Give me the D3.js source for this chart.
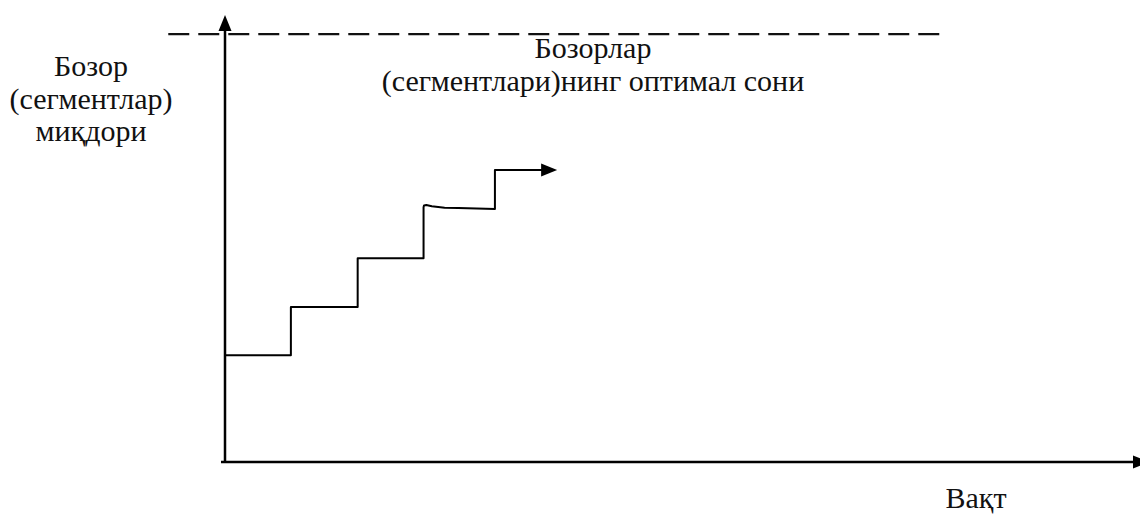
<!DOCTYPE html>
<meta charset="utf-8">
<script src="https://cdn.jsdelivr.net/npm/d3@7"></script>
<style>
    body { margin: 0; background: #fff; }
</style>
<body>
<div id="chart"></div>
<script>

    // step values (time units, level units 0..100)
    var stepTimes = [0, 7.2, 14.5, 21.7, 29.5, 36.3]
    var stepLevels = [23.9, 34.7, 45.6, 56.6, 65.3]
    // hand-drawn wobble at the top of the 4th riser
    var curlTimes = [21.7, 21.75, 22.0, 22.6, 24.0, 25.5]
    var curlLevels = [57.0, 57.4, 57.5, 57.2, 56.9, 56.8]
    var optimalLevel = 95.7
    var optimalRange = [-6.2, 78.7]
    var yLabel = ["Бозор", "(сегментлар)", "миқдори"]
    var optimalLabel = ["Бозорлар", "(сегментлари)нинг оптимал сони"]
    var xLabel = "Вақт"

    var W = 1140, H = 514
    var serif = "'Liberation Serif'"

    var x_scale = d3.scaleLinear().domain([0, 100]).range([225, 1140])
    var y_scale = d3.scaleLinear().domain([0, 100]).range([462, 15])

    var svg = d3.select("#chart").append("svg").attr("width", W).attr("height", H)

    // axes
    svg.append("line").attr("x1", x_scale(0)).attr("x2", x_scale(0))
        .attr("y1", y_scale(0)).attr("y2", y_scale(100) + 12)
        .attr("stroke", "#000").attr("stroke-width", 2.5)
    svg.append("path")
        .attr("d", "M" + x_scale(0) + "," + y_scale(100) + "l-6.5,16h13z").attr("fill", "#000")

    svg.append("line").attr("x1", x_scale(0) - 4).attr("x2", x_scale(100))
        .attr("y1", y_scale(0)).attr("y2", y_scale(0))
        .attr("stroke", "#000").attr("stroke-width", 2.5)
    svg.append("path")
        .attr("d", "M" + (x_scale(100) + 9) + "," + y_scale(0) + "l-16,-6.5v13z").attr("fill", "#000")

    // optimal level dashed line
    svg.append("line").attr("x1", x_scale(optimalRange[0])).attr("x2", x_scale(optimalRange[1]))
        .attr("y1", y_scale(optimalLevel)).attr("y2", y_scale(optimalLevel))
        .attr("stroke", "#111").attr("stroke-width", 2.2).attr("stroke-dasharray", "21,9")

    // step line
    var pts = []
    stepLevels.forEach((lv, i) => {
        if (i == 3) {
            curlTimes.forEach((t, j) => pts.push([t, curlLevels[j]]))
            pts.push([stepTimes[i + 1], lv])
        } else {
            pts.push([stepTimes[i], lv])
            pts.push([stepTimes[i + 1], lv])
        }
    })
    var line = d3.line().x(d => x_scale(d[0])).y(d => y_scale(d[1]))
    var last = pts[pts.length - 1]
    pts[pts.length - 1] = [last[0] - 1.6, last[1]]
    svg.append("path").attr("d", line(pts)).attr("fill", "none")
        .attr("stroke", "#000").attr("stroke-width", 2).attr("stroke-linejoin", "round")
    svg.append("path")
        .attr("d", "M" + x_scale(last[0]) + "," + y_scale(last[1]) + "l-16,-6.5v13z").attr("fill", "#000")

    // labels, one text per line
    yLabel.forEach((t, i) => {
        svg.append("text").attr("x", 91).attr("y", 76 + i * 32.5)
            .style("font-family", serif).style("font-size", "30px")
            .attr("fill", "#111").attr("text-anchor", "middle").text(t)
    })
    optimalLabel.forEach((t, i) => {
        svg.append("text").attr("x", 593).attr("y", 58 + i * 33)
            .style("font-family", serif).style("font-size", "30px")
            .attr("fill", "#111").attr("text-anchor", "middle").text(t)
    })
    svg.append("text").attr("x", 976).attr("y", 508)
        .style("font-family", serif).style("font-size", "30px")
        .attr("fill", "#111").attr("text-anchor", "middle").text(xLabel)

</script>
</body>
</html>
